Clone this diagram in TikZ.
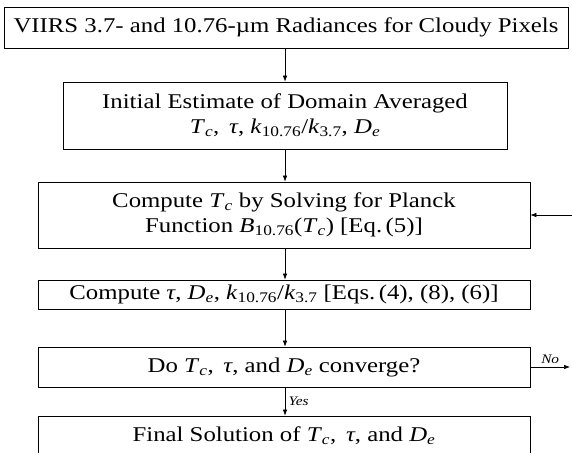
\documentclass[tikz,border=0pt]{standalone}
\usepackage{fontspec}
\setmainfont[FakeStretch=1.18]{Liberation Serif}
\usetikzlibrary{arrows.meta}

\newcommand{\Tcld}{\textit{T}\textsubscript{\textit{c}}}
\newcommand{\Deff}{\textit{D}\textsubscript{\textit{e}}}
\newcommand{\tauc}{\textit{τ}}
\newcommand{\kratio}{\textit{k}\textsubscript{10.76}/\textit{k}\textsubscript{3.7}}

\tikzset{
  procbox/.style={draw, line width=0.8pt, inner sep=0pt, align=center,
    font=\fontsize{21}{25}\selectfont},
  flow/.style={-{Latex[length=6pt,width=4.5pt]}, line width=0.6pt},
  branch/.style={font=\fontsize{13}{14}\selectfont\itshape}
}

\begin{document}
\begin{tikzpicture}[x=1pt,y=-1pt]
  \clip (0,0) rectangle (572,452);
  % boxes
  \node[procbox, minimum width=564pt, minimum height=41pt] (radiances) at (286,27.5)
    {VIIRS 3.7- and 10.76-µm Radiances for Cloudy Pixels};
  \node[procbox, minimum width=444pt, minimum height=67pt] (initial) at (285,115.5)
    {Initial Estimate of Domain Averaged\\ \Tcld,\, \tauc, \kratio, \Deff};
  \node[procbox, minimum width=492pt, minimum height=66pt] (planck) at (284,215)
    {Compute \Tcld{} by Solving for Planck\\ Function \textit{B}\textsubscript{10.76}(\Tcld) [Eq.\,(5)]};
  \node[procbox, minimum width=492pt, minimum height=29pt] (update) at (284,294.5)
    {Compute \tauc, \Deff, \kratio{} [Eqs.\,(4), (8), (6)]};
  \node[procbox, minimum width=492pt, minimum height=40pt] (converge) at (284,367)
    {Do \Tcld,\, \tauc, and \Deff{} converge?};
  \node[procbox, minimum width=492pt, minimum height=40pt] (final) at (284,436)
    {Final Solution of \Tcld,\, \tauc, and \Deff};
  % loose ends at the right margin
  \coordinate (loopin) at (580,215);
  \coordinate (loopout) at (570,367);
  % connectors
  \draw[flow] (initial.north |- radiances.south) -- (initial.north);
  \draw[flow] (initial.south) -- (initial.south |- planck.north);
  \draw[flow] (initial.south |- planck.south) -- (initial.south |- update.north);
  \draw[flow] (initial.south |- update.south) -- (initial.south |- converge.north);
  \draw[flow] (initial.south |- converge.south) -- (initial.south |- final.north)
    node[branch, right, midway] {Yes};
  \draw[flow] (loopin) -- (planck.east);
  \draw[flow] (converge.east) -- (loopout) node[branch, above, midway] {No};
\end{tikzpicture}
\end{document}
